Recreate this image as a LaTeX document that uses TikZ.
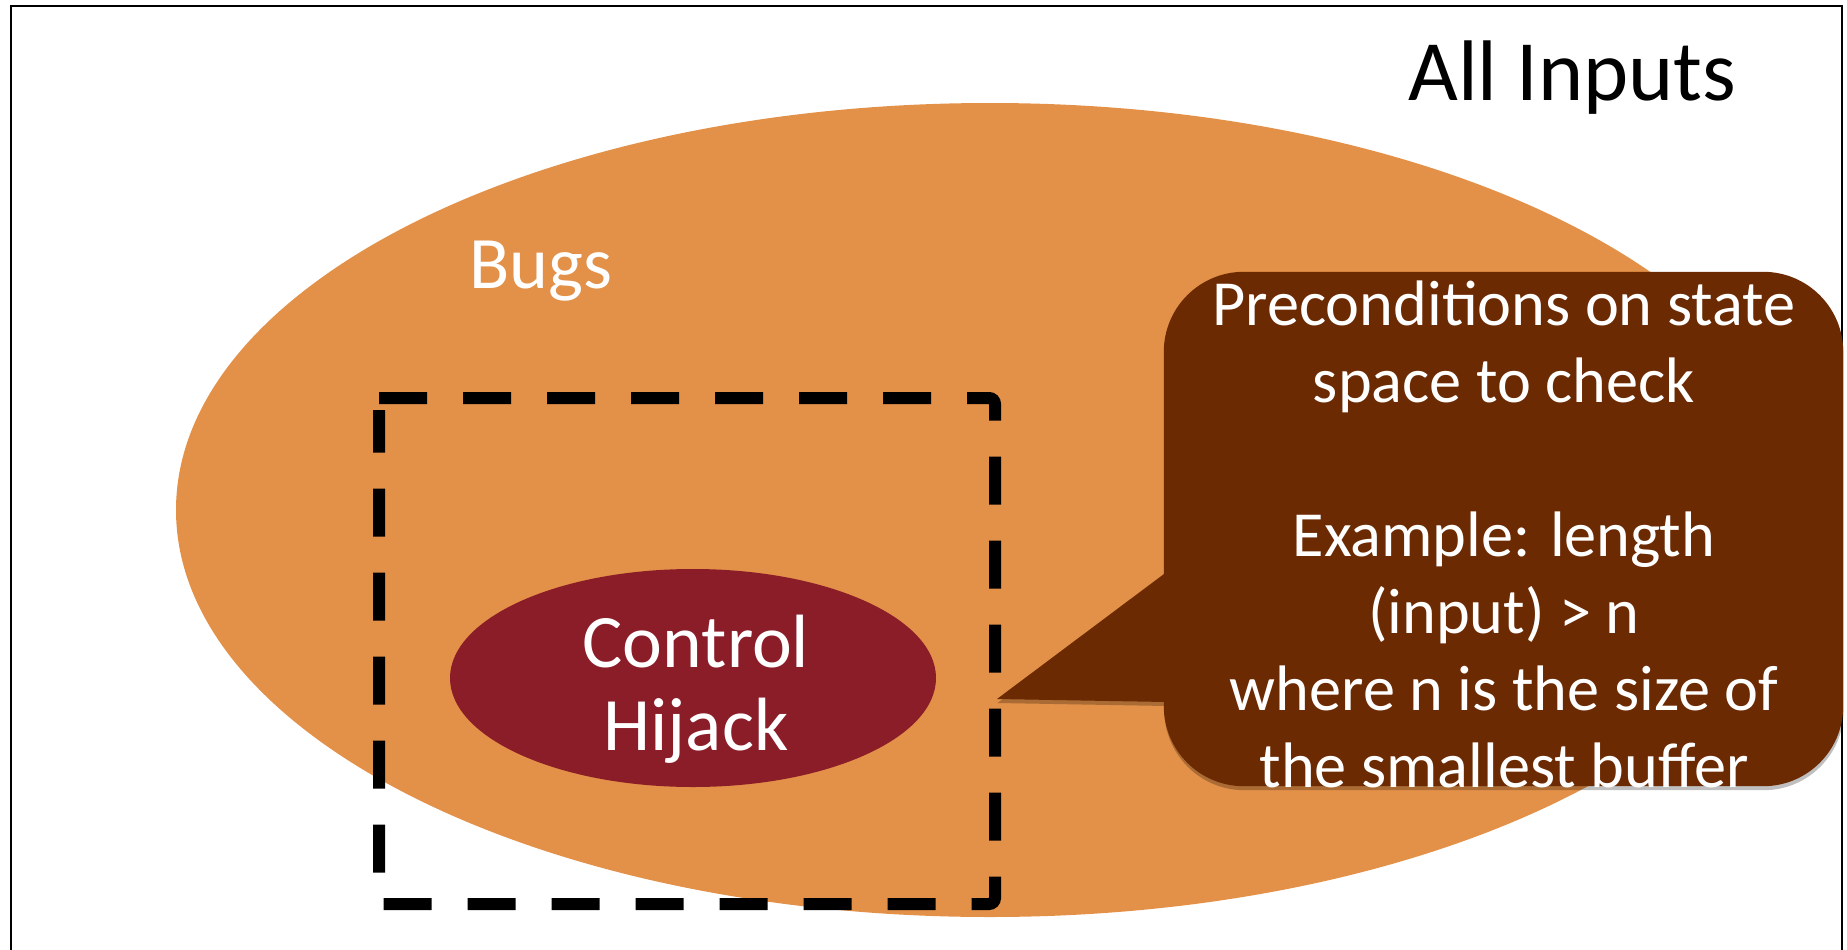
\documentclass[tikz,border=0pt]{standalone}
\usepackage{fontspec}
\setmainfont{Carlito}
\usetikzlibrary{shapes.geometric,shadows}

\definecolor{bugorange}{HTML}{E39048}
\definecolor{hijackred}{HTML}{8B1D29}
\definecolor{notebrown}{HTML}{6C2A03}

% centred block of lines; its baseline is that of the first line
\newcommand\linesat[3]{{\fontsize{#1}{#2}\selectfont\begin{tabular}[t]{@{}c@{}}#3\end{tabular}}}

\tikzset{
  setblob/.style={ellipse, inner sep=0pt, draw=none},
  labeltext/.style={inner sep=0pt, anchor=base, text=white},
  dashbox/.style={draw=black, line width=12pt, dash pattern=on 48pt off 36pt},
  notefill/.style={fill=notebrown, drop shadow={shadow xshift=0.5pt, shadow yshift=-4pt, opacity=0.25, fill=black}},
}

\begin{document}
\begin{tikzpicture}[x=1pt, y=-1pt]
\useasboundingbox (0,0) rectangle (1847,950);
\clip (0,0) rectangle (1847,950);

% outer frame: the set of all inputs
\draw[line width=2.5pt] (11,980) -- (11,6) -- (1842,6) -- (1842,980);

% bugs
\node[setblob, fill=bugorange, minimum width=1628pt, minimum height=814pt] (bugs) at (990,510) {};
\node[labeltext, anchor=base west, font=\fontsize{74}{88}\selectfont] (bugslabel) at (469,288) {Bugs};

% control hijack
\node[setblob, fill=hijackred, minimum width=486pt, minimum height=218pt] (hijack) at (693,678) {};
\node[labeltext] (hijacklabel) at (696,667) {\linesat{75.5}{83}{Control\\Hijack}};

% region of interest: right-hand corners rounded, left-hand corners square
\draw[dashbox] (379,398) [rounded corners=6pt] -- (995,398) -- (995,904) [sharp corners] -- (379,904) -- (379,410);

% callout with its pointer
\path (1503.5,529) node[inner sep=0pt, minimum width=679pt, minimum height=514pt] (note) {};
\coordinate (tip) at (997,699);
\path[notefill] (tip) -- (1194,551.5) -- (1194,702.5) -- cycle;
\path[notefill, rounded corners=80pt] (note.north west) rectangle (note.south east);
\node[labeltext] (notetext) at (1504,325) {\linesat{64.3}{77}{Preconditions on state\\space to check\\ \\Example: length\\(input) > n\\where n is the size of\\the smallest buffer}};

% title
\node[inner sep=0pt, anchor=base west, font=\fontsize{86}{100}\selectfont] (alllabel) at (1408,100) {All Inputs};
\end{tikzpicture}
\end{document}
